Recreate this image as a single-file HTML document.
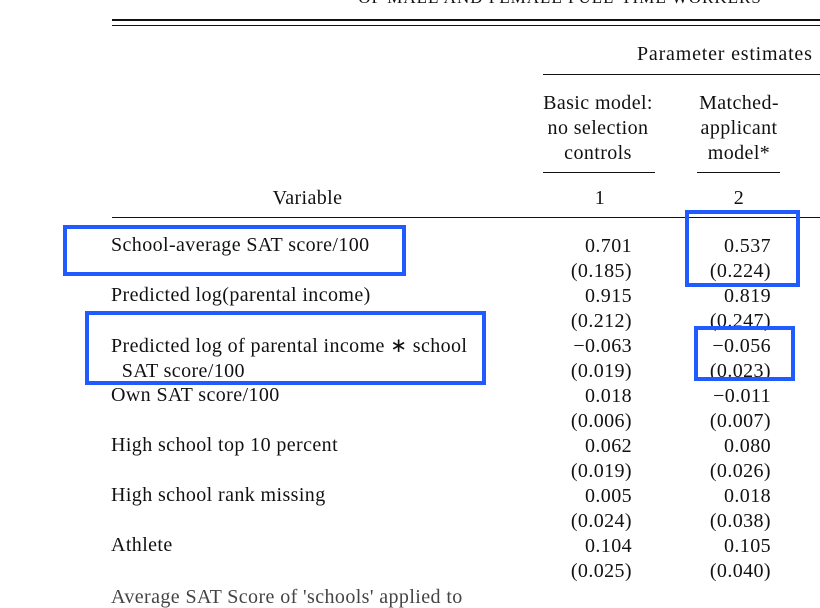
<!DOCTYPE html>
<html><head><meta charset="utf-8"><style>
body{margin:0;width:820px;height:588px;background:#fff;overflow:hidden;position:relative;font-family:"Liberation Serif",serif;color:#111}
.t{position:absolute;font-size:20px;letter-spacing:0.4px;line-height:22px;white-space:nowrap}
.r{text-align:right}
.c{text-align:center}
.ln{position:absolute;background:#111}
.box{position:absolute;border:4px solid #1f5bff;box-sizing:border-box}
</style></head><body>
<div class="t c" style="left:300px;width:520px;top:-13px;font-size:17px;letter-spacing:1px">OF MALE AND FEMALE FULL-TIME WORKERS</div>
<div class="ln" style="left:112px;width:708px;top:19px;height:2px"></div>
<div class="ln" style="left:112px;width:708px;top:25px;height:1px"></div>
<div class="t" style="left:637px;top:43px;letter-spacing:0.8px">Parameter estimates</div>
<div class="ln" style="left:543px;width:277px;top:74px;height:1px"></div>
<div class="t c" style="left:528px;width:140px;top:91px;line-height:25px">Basic model:<br>no selection<br>controls</div>
<div class="t c" style="left:669px;width:140px;top:91px;line-height:25px">Matched-<br>applicant<br>model*</div>
<div class="ln" style="left:543px;width:112px;top:172px;height:1px"></div>
<div class="ln" style="left:697px;width:83px;top:172px;height:1px"></div>
<div class="t c" style="left:240px;width:135px;top:187px">Variable</div>
<div class="t c" style="left:580px;width:40px;top:187px">1</div>
<div class="t c" style="left:719px;width:40px;top:187px">2</div>
<div class="ln" style="left:112px;width:708px;top:217px;height:1px"></div>

<div class="t" style="left:111px;top:234px">School-average SAT score/100</div>
<div class="t" style="left:111px;top:284px">Predicted log(parental income)</div>
<div class="t" style="left:111px;top:334px;line-height:25px">Predicted log of parental income ∗ school<br>&nbsp;&nbsp;SAT score/100</div>
<div class="t" style="left:111px;top:384px">Own SAT score/100</div>
<div class="t" style="left:111px;top:434px">High school top 10 percent</div>
<div class="t" style="left:111px;top:484px">High school rank missing</div>
<div class="t" style="left:111px;top:534px">Athlete</div>
<div class="t" style="left:111px;top:586px;color:#444">Average SAT Score of 'schools' applied to</div>

<div class="t r" style="left:520px;width:112px;top:234px;line-height:25px">0.701<br>(0.185)<br>0.915<br>(0.212)<br>−0.063<br>(0.019)<br>0.018<br>(0.006)<br>0.062<br>(0.019)<br>0.005<br>(0.024)<br>0.104<br>(0.025)</div>
<div class="t r" style="left:660px;width:111px;top:234px;line-height:25px">0.537<br>(0.224)<br>0.819<br>(0.247)<br>−0.056<br>(0.023)<br>−0.011<br>(0.007)<br>0.080<br>(0.026)<br>0.018<br>(0.038)<br>0.105<br>(0.040)</div>

<div class="box" style="left:63px;top:225px;width:343px;height:51px"></div>
<div class="box" style="left:685px;top:210px;width:115px;height:77px"></div>
<div class="box" style="left:85px;top:311px;width:401px;height:74px"></div>
<div class="box" style="left:694px;top:326px;width:101px;height:55px"></div>
</body></html>
